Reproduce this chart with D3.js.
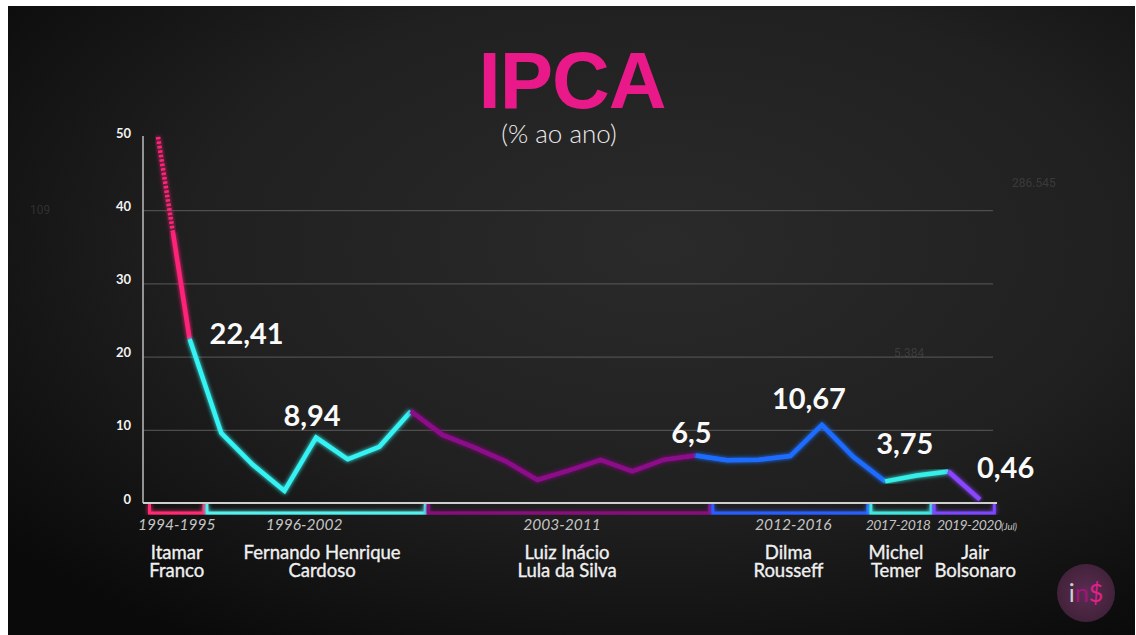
<!DOCTYPE html>
<html>
<head>
<meta charset="utf-8">
<script src="https://cdn.jsdelivr.net/npm/d3@7"></script>
<style>
  html, body { margin: 0; padding: 0; background: #fff; }
  svg { display: block; }
</style>
</head>
<body>
<div id="chart"></div>
<script>
// IPCA (% ao ano), 1994-2020 (2020 = acumulado ate julho)
var years = [1994, 1995, 1996, 1997, 1998, 1999, 2000, 2001, 2002, 2003, 2004, 2005, 2006,
             2007, 2008, 2009, 2010, 2011, 2012, 2013, 2014, 2015, 2016, 2017, 2018, 2019, 2020];
var ipca  = [916.46, 22.41, 9.56, 5.22, 1.65, 8.94, 5.97, 7.67, 12.53, 9.30, 7.60, 5.69, 3.14,
             4.46, 5.90, 4.31, 5.91, 6.50, 5.84, 5.91, 6.41, 10.67, 6.29, 2.95, 3.75, 4.31, 0.46];

// governos
var govFirst = ["Itamar", "Fernando Henrique", "Luiz Inácio", "Dilma", "Michel", "Jair"];
var govLast  = ["Franco", "Cardoso", "Lula da Silva", "Rousseff", "Temer", "Bolsonaro"];
var govTerm  = ["1994-1995", "1996-2002", "2003-2011", "2012-2016", "2017-2018", "2019-2020"];
var govStart = [1994, 1996, 2003, 2012, 2017, 2019];
var govEnd   = [1995, 2002, 2011, 2016, 2018, 2020];
// trecho da linha pintado na cor de cada governo
var lineFrom = [1994, 1995, 2002, 2011, 2017, 2019];
var lineTo   = [1995, 2002, 2011, 2017, 2019, 2020];

// valores destacados
var labelYears = [1995, 1999, 2011, 2015, 2018, 2020];
var labelTexts = ["22,41", "8,94", "6,5", "10,67", "3,75", "0,46"];

var yTicks = [0, 10, 20, 30, 40, 50];

var lineColors    = ["#ff2379", "#35f3f2", "#8c0c88", "#1f6dff", "#36efe9", "#8a45ff"];
var bracketColors = ["#ff2a72", "#52f0ee", "#8a0f7e", "#2a5dff", "#3ee6df", "#7d46ff"];

var W = 1136, H = 635;

var svg = d3.select("#chart")
  .append("svg")
    .attr("width", W)
    .attr("height", H);

var defs = svg.append("defs");

var bg = defs.append("radialGradient")
    .attr("id", "bg")
    .attr("cx", "58%").attr("cy", "38%").attr("r", "75%");
bg.append("stop").attr("offset", "0%").attr("stop-color", "#2a2a2a");
bg.append("stop").attr("offset", "55%").attr("stop-color", "#202020");
bg.append("stop").attr("offset", "100%").attr("stop-color", "#0a0a0a");

var glow = defs.append("filter")
    .attr("id", "glow")
    .attr("x", "-20%").attr("y", "-20%").attr("width", "140%").attr("height", "140%");
glow.append("feGaussianBlur").attr("stdDeviation", 2).attr("result", "b");
var merge = glow.append("feMerge");
merge.append("feMergeNode").attr("in", "b");
merge.append("feMergeNode").attr("in", "SourceGraphic");

var logoGrad = defs.append("radialGradient").attr("id", "logo");
logoGrad.append("stop").attr("offset", "0%").attr("stop-color", "#633059");
logoGrad.append("stop").attr("offset", "100%").attr("stop-color", "#48243f");

// painel escuro (borda branca fina em cima e a esquerda)
svg.append("rect")
    .attr("x", 8).attr("y", 6)
    .attr("width", 1127).attr("height", H - 6)
    .attr("fill", "url(#bg)");

// numeros apagados no fundo
var ghost = svg.append("g")
    .attr("font-family", "Roboto, sans-serif")
    .attr("font-size", 12)
    .attr("fill", "#fff")
    .attr("opacity", 0.1);
ghost.append("text").attr("x", 1012).attr("y", 187).text("286.545");
ghost.append("text").attr("x", 894).attr("y", 357).text("5.384");
ghost.append("text").attr("x", 30).attr("y", 214).text("109");

// scales
var x = d3.scaleLinear()
  .domain([1994, 2020])
  .range([158, 980]);

var y = d3.scaleLinear()
  .domain([0, 50])
  .range([503, 137])
  .clamp(true);

var axisX = 143, gridEnd = 993, axisEnd = 997;

// titulo
svg.append("text")
    .attr("x", 572).attr("y", 108)
    .attr("text-anchor", "middle")
    .attr("font-family", "'Liberation Sans', Arial, sans-serif")
    .attr("font-weight", "bold")
    .attr("font-size", 80)
    .attr("letter-spacing", -1)
    .attr("fill", "#e9198a")
    .text("IPCA");

svg.append("text")
    .attr("x", 559).attr("y", 143)
    .attr("text-anchor", "middle")
    .attr("font-family", "Lato, sans-serif")
    .attr("font-weight", 300)
    .attr("font-size", 26)
    .attr("fill", "#ececec")
    .text("(% ao ano)");

// grid
var grid = svg.append("g")
  .attr("transform", "translate(" + axisX + ",0)")
  .call(d3.axisLeft(y)
    .tickValues(yTicks.filter(function(d) { return d > 0 && d < 50; }))
    .tickSize(-(gridEnd - axisX))
    .tickFormat(""));
grid.select(".domain").remove();
grid.selectAll("line")
    .attr("stroke", "#5a5a5a")
    .attr("stroke-width", 1);

// eixo Y
var yAxis = svg.append("g")
  .attr("transform", "translate(" + axisX + ",0)")
  .call(d3.axisLeft(y).tickValues(yTicks).tickSize(0).tickPadding(12));
yAxis.select(".domain").remove();
yAxis.selectAll("text")
    .attr("y", -4)
    .attr("font-family", "Lato, sans-serif")
    .attr("font-weight", "bold")
    .attr("font-size", 13)
    .attr("fill", "#f2f2f2");

svg.append("line")
    .attr("x1", axisX).attr("x2", axisX)
    .attr("y1", y(50) - 1).attr("y2", y(0))
    .attr("stroke", "#bdbdbd")
    .attr("stroke-width", 1.5);

// chaves dos governos
var brY0 = y(0) + 1, brY1 = y(0) + 10;
var termShift = [0, -12, -7, 3, -3, 5];
var nameShift = [0, 6, -2, -2, -5, 11];
govStart.forEach(function(s, i) {
  var x0 = Math.max(x(s - 0.5), axisX + 5) + 1.5;
  var x1 = x(govEnd[i] + 0.5) - 1.5;
  svg.append("path")
      .attr("d", "M" + x0 + "," + brY0 + "V" + brY1 + "H" + x1 + "V" + brY0)
      .attr("fill", "none")
      .attr("stroke", bracketColors[i])
      .attr("stroke-width", 3)
      .attr("filter", "url(#glow)");

  var cx = (x0 + x1) / 2;
  var narrow = i >= 4; // chaves curtas: rotulo mais apertado
  svg.append("text")
      .attr("x", cx + termShift[i]).attr("y", 530)
      .attr("text-anchor", "middle")
      .attr("font-family", "Lato, sans-serif")
      .attr("font-style", "italic")
      .attr("font-size", narrow ? 14 : 15.5)
      .attr("letter-spacing", narrow ? -0.6 : 0)
      .attr("fill", "#c4c4c4")
      .text(govTerm[i]);

  var names = svg.append("text")
      .attr("text-anchor", "middle")
      .attr("font-family", "Lato, sans-serif")
      .attr("font-size", 18.5)
      .attr("fill", "#f0f0f0")
      .attr("stroke", "#f0f0f0")
      .attr("stroke-width", 0.35);
  names.append("tspan").attr("x", cx + nameShift[i]).attr("y", 559).text(govFirst[i]);
  names.append("tspan").attr("x", cx + nameShift[i]).attr("y", 577).text(govLast[i]);

  if (i === govStart.length - 1) {
    svg.append("text")
        .attr("x", x1 + 7).attr("y", 530)
        .attr("font-family", "Lato, sans-serif")
        .attr("font-style", "italic")
        .attr("font-size", 9.5)
        .attr("fill", "#c4c4c4")
        .text("(Jul)");
  }
});

// eixo X
svg.append("line")
    .attr("x1", axisX).attr("x2", axisEnd)
    .attr("y1", y(0)).attr("y2", y(0))
    .attr("stroke", "#cfcfcf")
    .attr("stroke-width", 2);

// linha do IPCA por governo
var pts = years.map(function(yr, i) { return [x(yr), y(ipca[i])]; });
var line = d3.line();

lineFrom.forEach(function(from, i) {
  var seg = pts.filter(function(p, j) { return years[j] >= from && years[j] <= lineTo[i]; });
  if (i === 0) {
    // 1994 sai da escala: trecho de cima tracejado
    var p0 = seg[0], p1 = seg[1];
    var t = (y(37) - p0[1]) / (p1[1] - p0[1]);
    var pm = [p0[0] + t * (p1[0] - p0[0]), p0[1] + t * (p1[1] - p0[1])];
    svg.append("path")
        .attr("d", line([p0, pm]))
        .attr("fill", "none")
        .attr("stroke", lineColors[i])
        .attr("stroke-width", 4.5)
        .attr("stroke-dasharray", "2.5,2")
        .attr("filter", "url(#glow)");
    seg = [pm, p1];
  }
  svg.append("path")
      .attr("d", line(seg))
      .attr("fill", "none")
      .attr("stroke", lineColors[i])
      .attr("stroke-width", 4.5)
      .attr("stroke-linejoin", "miter")
      .attr("filter", "url(#glow)");
});

// rotulos de valor
var labelPos = [
  { dx: 20,  dy: 5,   anchor: "start" },
  { dx: -4,  dy: -12, anchor: "middle" },
  { dx: -4,  dy: -12, anchor: "middle" },
  { dx: -13, dy: -16, anchor: "middle" },
  { dx: -12, dy: -22, anchor: "middle" },
  { dx: -3,  dy: -22, anchor: "start" }
];
labelYears.forEach(function(yr, i) {
  var j = years.indexOf(yr);
  svg.append("text")
      .attr("x", x(yr) + labelPos[i].dx)
      .attr("y", y(ipca[j]) + labelPos[i].dy)
      .attr("text-anchor", labelPos[i].anchor)
      .attr("font-family", "Lato, sans-serif")
      .attr("font-weight", "bold")
      .attr("font-size", 29)
      .attr("fill", "#fafafa")
      .text(labelTexts[i]);
});

// logo
svg.append("circle")
    .attr("cx", 1086).attr("cy", 593).attr("r", 29)
    .attr("fill", "url(#logo)")
    .attr("opacity", 0.9);
var logo = svg.append("text")
    .attr("x", 1086).attr("y", 602)
    .attr("text-anchor", "middle")
    .attr("font-family", "Lato, sans-serif")
    .attr("font-size", 25);
logo.append("tspan").attr("fill", "#d0d0d0").text("i");
logo.append("tspan").attr("fill", "#a4137c").text("n");
logo.append("tspan").attr("fill", "#e0208c").text("$");
</script>
</body>
</html>
